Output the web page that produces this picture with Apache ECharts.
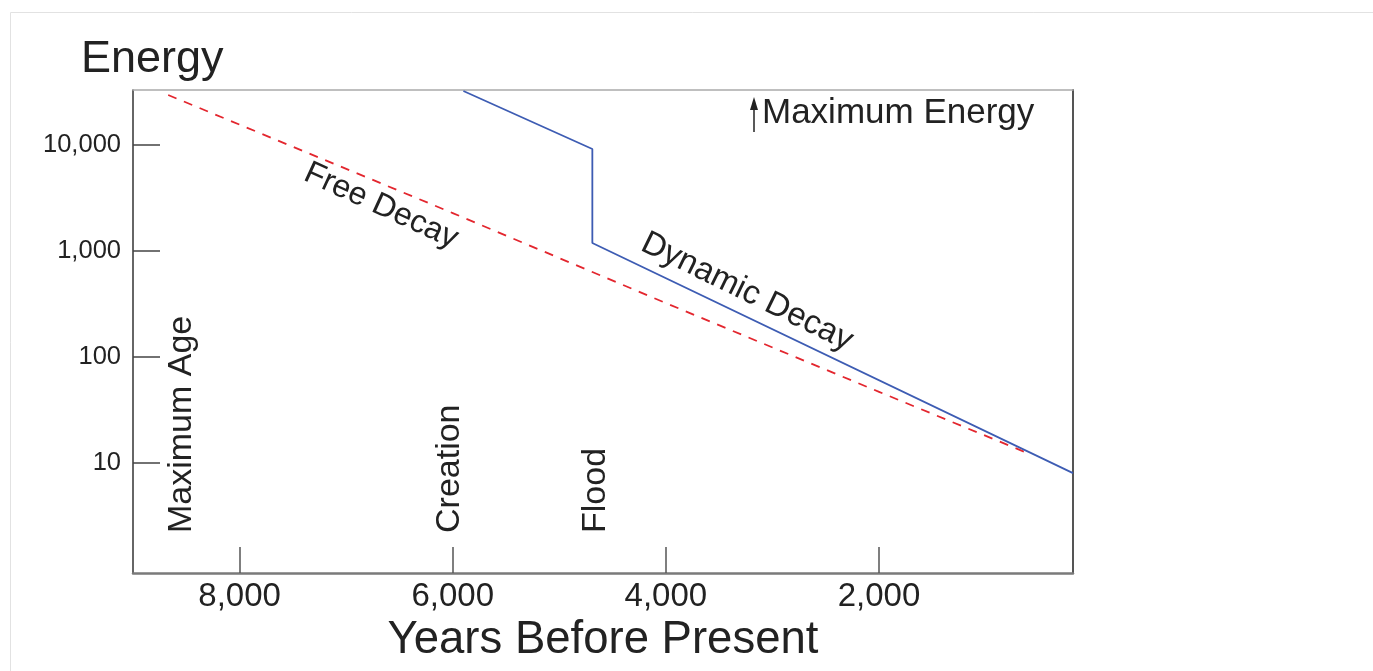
<!DOCTYPE html>
<html>
<head>
<meta charset="utf-8">
<script src="https://cdn.jsdelivr.net/npm/echarts@6/dist/echarts.min.js"></script>
<style>
  html, body { margin: 0; padding: 0; background: #fff; }
  #chart { width: 1373px; height: 671px; }
</style>
</head>
<body>
<div id="chart"></div>
<script>
// Data: [years before present, energy]
var freeDecayYears  = [8670, 6000, 4000, 2000, 630];
var freeDecayEnergy = [29600, 2280, 323, 47, 12.7];

var dynamicDecayYears  = [5900, 4690, 4690, 180];
var dynamicDecayEnergy = [32300, 9170, 1190, 8.05];

var xTickValues = [8000, 6000, 4000, 2000];
var yTickValues = [10, 100, 1000, 10000];

var eventLabels = ['Maximum Age', 'Creation', 'Flood'];

function pairs(xs, ys) {
  return xs.map(function (x, i) { return [x, ys[i]]; });
}

var FONT = "'Liberation Sans', Arial, sans-serif";
var chart = echarts.init(document.getElementById('chart'));

var option = {
  backgroundColor: '#fff',
  animation: false,
  title: {
    text: 'Energy',
    left: 81, top: 37, padding: 0,
    textStyle: { fontFamily: FONT, fontSize: 45, fontWeight: 'normal', color: '#222' }
  },
  grid: { left: 133, top: 90, width: 940, height: 483, show: false },
  xAxis: [{
    type: 'value',
    inverse: true,
    min: 180, max: 9000,
    name: 'Years Before Present',
    nameLocation: 'middle',
    nameGap: 41,
    nameTextStyle: { fontFamily: FONT, fontSize: 45.5, color: '#222' },
    axisLine: { show: true, lineStyle: { color: '#7a7a7a', width: 2.5 } },
    axisTick: { show: true, inside: true, length: 26, customValues: xTickValues, lineStyle: { color: '#555', width: 1.5 } },
    axisLabel: {
      customValues: xTickValues, margin: 7,
      fontFamily: FONT, fontSize: 33, color: '#222',
      formatter: function (v) { return v.toLocaleString('en-US'); }
    },
    splitLine: { show: false }
  }, {
    type: 'value', position: 'top', min: 0, max: 1,
    axisLine: { show: true, onZero: false, lineStyle: { color: '#aaa', width: 1.5 } },
    axisTick: { show: false }, axisLabel: { show: false }, splitLine: { show: false }
  }],
  yAxis: [{
    type: 'log',
    logBase: 10,
    min: 0.92, max: 33000,
    axisLine: { show: true, lineStyle: { color: '#333', width: 1.5 } },
    axisTick: { show: true, inside: true, length: 27, customValues: yTickValues, lineStyle: { color: '#444', width: 1.5 } },
    axisLabel: {
      customValues: yTickValues, margin: 12,
      fontFamily: FONT, fontSize: 25.5, color: '#222',
      formatter: function (v) { return Math.round(v).toLocaleString('en-US'); }
    },
    splitLine: { show: false }
  }, {
    type: 'value', position: 'right', min: 0, max: 1,
    axisLine: { show: true, onZero: false, lineStyle: { color: '#555', width: 2 } },
    axisTick: { show: false }, axisLabel: { show: false }, splitLine: { show: false }
  }],
  series: [{
    name: 'Free Decay',
    type: 'line',
    data: pairs(freeDecayYears, freeDecayEnergy),
    showSymbol: false, symbol: 'none',
    lineStyle: { color: '#e3262e', width: 1.8, type: [9, 8] },
    z: 2
  }, {
    name: 'Dynamic Decay',
    type: 'line',
    data: pairs(dynamicDecayYears, dynamicDecayEnergy),
    showSymbol: false, symbol: 'none',
    lineStyle: { color: '#3d5cb3', width: 1.8 },
    z: 3
  }],
  graphic: [
    { type: 'rect', shape: { x: 10.5, y: 12.5, width: 1400, height: 700 }, style: { fill: 'none', stroke: '#e2e2e2', lineWidth: 1 }, silent: true, z: -10 },
    { type: 'text', x: 182, y: 533, rotation: Math.PI / 2,
      style: { text: eventLabels[0], fontFamily: FONT, fontSize: 34, fill: '#222', align: 'left', verticalAlign: 'middle' } },
    { type: 'text', x: 450, y: 533, rotation: Math.PI / 2,
      style: { text: eventLabels[1], fontFamily: FONT, fontSize: 34, fill: '#222', align: 'left', verticalAlign: 'middle' } },
    { type: 'text', x: 596, y: 533, rotation: Math.PI / 2,
      style: { text: eventLabels[2], fontFamily: FONT, fontSize: 34, fill: '#222', align: 'left', verticalAlign: 'middle' } },
    { type: 'text', x: 381, y: 206, rotation: -0.43,
      style: { text: 'Free Decay', fontFamily: FONT, fontSize: 32, fill: '#222', align: 'center', verticalAlign: 'middle' } },
    { type: 'text', x: 747, y: 292, rotation: -0.455,
      style: { text: 'Dynamic Decay', fontFamily: FONT, fontSize: 33, fill: '#222', align: 'center', verticalAlign: 'middle' } },
    { type: 'text', x: 762, y: 113,
      style: { text: 'Maximum Energy', fontFamily: FONT, fontSize: 35, fill: '#222', align: 'left', verticalAlign: 'middle' } },
    { type: 'line', shape: { x1: 754, y1: 108, x2: 754, y2: 132 }, style: { stroke: '#222', lineWidth: 1.5 } },
    { type: 'polygon', shape: { points: [[754, 97], [750, 110], [758, 110]] }, style: { fill: '#222' } }
  ]
};
chart.setOption(option);
</script>
</body>
</html>
